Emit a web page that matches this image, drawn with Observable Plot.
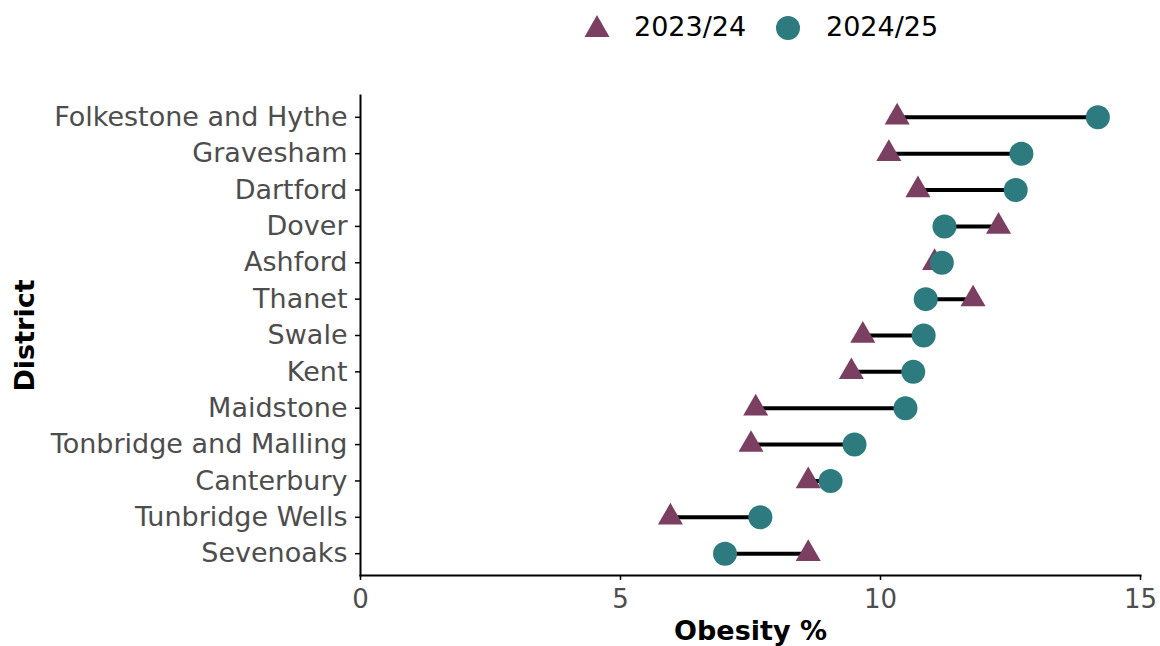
<!DOCTYPE html>
<html>
<head>
<meta charset="utf-8">
<script src="https://cdn.jsdelivr.net/npm/d3@7"></script>
<script src="https://cdn.jsdelivr.net/npm/@observablehq/plot@0.6"></script>
<style>
  body { margin: 0; background: #fff; font-family: "DejaVu Sans", sans-serif; }
  #wrap { position: relative; width: 1160px; height: 646px; }
  #legend { position: absolute; left: 0; top: 0; width: 1160px; height: 55px; }
  #legend .lab { position: absolute; top: 11px; font-size: 27px; color: #000; line-height: 32px; }
  #chart { position: absolute; left: 0; top: 55px; }
</style>
</head>
<body>
<div id="wrap">
  <div id="legend">
    <svg width="1160" height="55" style="position:absolute;left:0;top:0">
      <path d="M597,15 L609.5,37 L584.5,37 Z" fill="#7B3F61"></path>
      <circle cx="788" cy="28" r="12" fill="#2D7B7E"></circle>
    </svg>
    <div class="lab" style="left:634px">2023/24</div>
    <div class="lab" style="left:826px">2024/25</div>
  </div>
  <div id="chart"></div>
</div>
<script>
const districts = ["Folkestone and Hythe","Gravesham","Dartford","Dover","Ashford","Thanet","Swale","Kent","Maidstone","Tonbridge and Malling","Canterbury","Tunbridge Wells","Sevenoaks"];
const obesity2324 = [10.32,10.16,10.72,12.27,11.04,11.78,9.66,9.44,7.60,7.51,8.61,5.96,8.61];
const obesity2425 = [14.18,12.71,12.60,11.23,11.18,10.87,10.83,10.63,10.48,9.50,9.04,7.69,7.01];
const xTicks = [0,5,10,15];

const rows = districts.map((d,i) => ({district: d, a: obesity2324[i], b: obesity2425[i]}));

const plot = Plot.plot({
  width: 1160,
  height: 591,
  marginLeft: 360,
  marginRight: 20,
  marginTop: 40,
  marginBottom: 71,
  style: {fontFamily: "DejaVu Sans, sans-serif", background: "#fff"},
  x: {domain: [0,15], ticks: xTicks},
  y: {type: "point", domain: districts, padding: 0.6, round: false},
  marks: [
    Plot.frame({anchor: "left", stroke: "#000", strokeWidth: 2}),
    Plot.frame({anchor: "bottom", stroke: "#000", strokeWidth: 2}),
    Plot.axisX({ticks: xTicks, tickSize: 5, tickPadding: 9, fontSize: 26, color: "#000", label: null, tickFormat: d => String(d)}),
    Plot.axisY({tickSize: 5, tickPadding: 8, fontSize: 27, label: null}),
    Plot.link(rows, {x1: "a", x2: "b", y1: "district", y2: "district", stroke: "#000", strokeWidth: 4}),
    Plot.dot(rows, {x: "a", y: "district", symbol: "triangle", r: 9.3, fill: "#7B3F61", stroke: "none"}),
    Plot.dot(rows, {x: "b", y: "district", r: 12, fill: "#2D7B7E", stroke: "none"}),
    Plot.text(["Obesity %"], {frameAnchor: "bottom", dy: 64, fontSize: 27, fontWeight: "bold", fill: "#000"}),
    Plot.text(["District"], {frameAnchor: "left", dx: -335, rotate: -90, textAnchor: "middle", fontSize: 27, fontWeight: "bold", fill: "#000"})
  ]
});
d3.select(plot).selectAll("g[aria-label='x-axis tick label'], g[aria-label='y-axis tick label']").attr("fill", "#4d4d4d");
d3.select(plot).selectAll("g[aria-label='x-axis tick'], g[aria-label='y-axis tick']").attr("stroke", "#000").attr("stroke-width", 1.5);
document.getElementById("chart").appendChild(plot);
</script>
</body>
</html>
